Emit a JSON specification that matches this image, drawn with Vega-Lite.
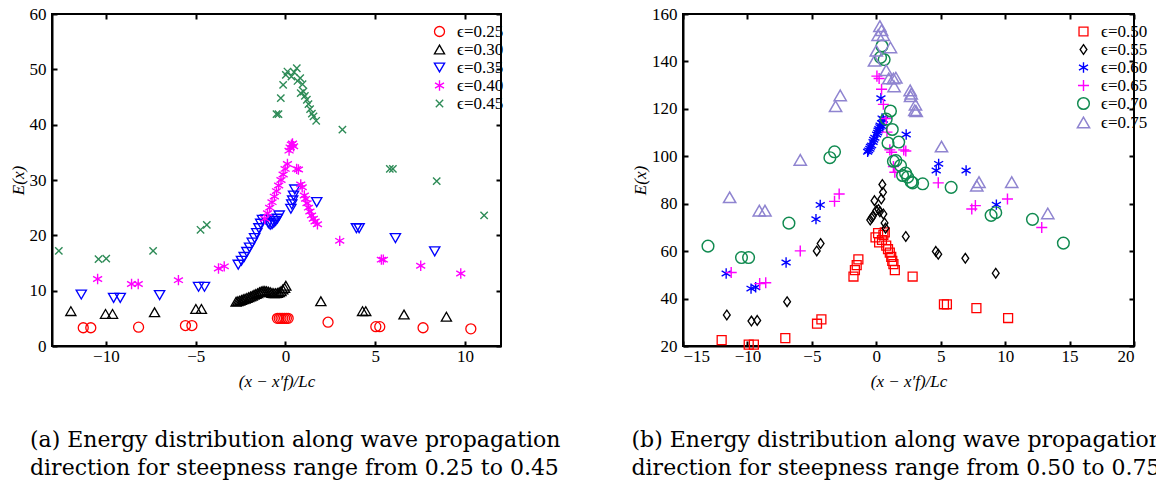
{
  "$schema": "https://vega.github.io/schema/vega-lite/v6.json",
  "background": "white",
  "padding": {"left": 8, "top": 4, "right": 0, "bottom": 0},
  "bounds": "flush",
  "spacing": 182,
  "datasets": {
    "a": [
      {"s":"ϵ=0.25","x":-11.26,"y":3.3},{"s":"ϵ=0.25","x":-10.84,"y":3.3},{"s":"ϵ=0.25","x":-8.18,"y":3.4},{"s":"ϵ=0.25","x":-5.57,"y":3.7},{"s":"ϵ=0.25","x":-5.21,"y":3.7},{"s":"ϵ=0.25","x":-0.45,"y":5.0},{"s":"ϵ=0.25","x":-0.35,"y":5.0},{"s":"ϵ=0.25","x":-0.25,"y":5.0},{"s":"ϵ=0.25","x":-0.15,"y":5.0},{"s":"ϵ=0.25","x":-0.05,"y":5.0},{"s":"ϵ=0.25","x":0.05,"y":5.0},{"s":"ϵ=0.25","x":0.15,"y":5.0},{"s":"ϵ=0.25","x":2.37,"y":4.3},{"s":"ϵ=0.25","x":5.03,"y":3.5},{"s":"ϵ=0.25","x":5.25,"y":3.5},{"s":"ϵ=0.25","x":7.66,"y":3.3},{"s":"ϵ=0.25","x":10.32,"y":3.1},
      {"s":"ϵ=0.30","x":-11.95,"y":6.3},{"s":"ϵ=0.30","x":-10.02,"y":5.8},{"s":"ϵ=0.30","x":-9.63,"y":5.8},{"s":"ϵ=0.30","x":-7.29,"y":6.1},{"s":"ϵ=0.30","x":-4.99,"y":6.7},{"s":"ϵ=0.30","x":-4.68,"y":6.7},
      {"s":"ϵ=0.30","x":-2.75,"y":8.0},{"s":"ϵ=0.30","x":-2.65,"y":8.1},{"s":"ϵ=0.30","x":-2.55,"y":8.2},{"s":"ϵ=0.30","x":-2.45,"y":8.3},{"s":"ϵ=0.30","x":-2.35,"y":8.45},{"s":"ϵ=0.30","x":-2.25,"y":8.55},{"s":"ϵ=0.30","x":-2.15,"y":8.7},{"s":"ϵ=0.30","x":-2.05,"y":8.8},{"s":"ϵ=0.30","x":-1.95,"y":8.95},{"s":"ϵ=0.30","x":-1.85,"y":9.1},{"s":"ϵ=0.30","x":-1.75,"y":9.25},{"s":"ϵ=0.30","x":-1.65,"y":9.4},{"s":"ϵ=0.30","x":-1.55,"y":9.55},{"s":"ϵ=0.30","x":-1.45,"y":9.7},{"s":"ϵ=0.30","x":-1.35,"y":9.85},{"s":"ϵ=0.30","x":-1.25,"y":9.95},{"s":"ϵ=0.30","x":-1.15,"y":9.95},{"s":"ϵ=0.30","x":-1.05,"y":9.9},{"s":"ϵ=0.30","x":-0.95,"y":9.8},{"s":"ϵ=0.30","x":-0.85,"y":9.7},{"s":"ϵ=0.30","x":-0.75,"y":9.6},{"s":"ϵ=0.30","x":-0.65,"y":9.55},{"s":"ϵ=0.30","x":-0.55,"y":9.55},{"s":"ϵ=0.30","x":-0.45,"y":9.6},{"s":"ϵ=0.30","x":-0.35,"y":9.7},{"s":"ϵ=0.30","x":-0.25,"y":9.9},{"s":"ϵ=0.30","x":-0.15,"y":10.2},{"s":"ϵ=0.30","x":-0.05,"y":10.5},{"s":"ϵ=0.30","x":0.02,"y":10.9},
      {"s":"ϵ=0.30","x":1.97,"y":8.1},{"s":"ϵ=0.30","x":4.29,"y":6.3},{"s":"ϵ=0.30","x":4.47,"y":6.3},{"s":"ϵ=0.30","x":6.6,"y":5.7},{"s":"ϵ=0.30","x":8.96,"y":5.3},
      {"s":"ϵ=0.35","x":-11.37,"y":9.3},{"s":"ϵ=0.35","x":-9.57,"y":8.7},{"s":"ϵ=0.35","x":-9.2,"y":8.7},{"s":"ϵ=0.35","x":-7.01,"y":9.2},{"s":"ϵ=0.35","x":-4.84,"y":10.7},{"s":"ϵ=0.35","x":-4.51,"y":10.7},
      {"s":"ϵ=0.35","x":-2.63,"y":14.7},{"s":"ϵ=0.35","x":-2.45,"y":15.4},{"s":"ϵ=0.35","x":-2.3,"y":16.1},{"s":"ϵ=0.35","x":-2.15,"y":17.0},{"s":"ϵ=0.35","x":-2.0,"y":17.8},{"s":"ϵ=0.35","x":-1.85,"y":18.7},{"s":"ϵ=0.35","x":-1.72,"y":19.5},{"s":"ϵ=0.35","x":-1.6,"y":20.4},{"s":"ϵ=0.35","x":-1.48,"y":21.3},{"s":"ϵ=0.35","x":-1.38,"y":22.1},{"s":"ϵ=0.35","x":-1.28,"y":22.8},{"s":"ϵ=0.35","x":-1.1,"y":22.9},{"s":"ϵ=0.35","x":-0.95,"y":22.2},{"s":"ϵ=0.35","x":-0.85,"y":21.9},{"s":"ϵ=0.35","x":-0.75,"y":22.0},{"s":"ϵ=0.35","x":-0.65,"y":22.3},{"s":"ϵ=0.35","x":-0.55,"y":22.6},{"s":"ϵ=0.35","x":-0.45,"y":23.0},{"s":"ϵ=0.35","x":-0.35,"y":23.6},
      {"s":"ϵ=0.35","x":0.3,"y":24.8},{"s":"ϵ=0.35","x":0.35,"y":25.6},{"s":"ϵ=0.35","x":0.4,"y":26.3},{"s":"ϵ=0.35","x":0.45,"y":27.2},{"s":"ϵ=0.35","x":0.52,"y":28.3},{"s":"ϵ=0.35","x":1.74,"y":26.0},{"s":"ϵ=0.35","x":3.95,"y":21.3},{"s":"ϵ=0.35","x":4.1,"y":21.3},{"s":"ϵ=0.35","x":6.12,"y":19.5},{"s":"ϵ=0.35","x":8.31,"y":17.1},
      {"s":"ϵ=0.40","x":-10.46,"y":12.1},{"s":"ϵ=0.40","x":-8.57,"y":11.2},{"s":"ϵ=0.40","x":-8.2,"y":11.2},{"s":"ϵ=0.40","x":-5.96,"y":11.9},{"s":"ϵ=0.40","x":-3.73,"y":14.0},{"s":"ϵ=0.40","x":-3.41,"y":14.4},
      {"s":"ϵ=0.40","x":-1.15,"y":23.0},{"s":"ϵ=0.40","x":-1.0,"y":24.0},{"s":"ϵ=0.40","x":-0.88,"y":25.0},{"s":"ϵ=0.40","x":-0.75,"y":26.0},{"s":"ϵ=0.40","x":-0.62,"y":27.0},{"s":"ϵ=0.40","x":-0.5,"y":28.0},{"s":"ϵ=0.40","x":-0.38,"y":29.0},{"s":"ϵ=0.40","x":-0.25,"y":30.0},{"s":"ϵ=0.40","x":-0.13,"y":31.0},{"s":"ϵ=0.40","x":-0.02,"y":32.0},{"s":"ϵ=0.40","x":0.11,"y":32.9},
      {"s":"ϵ=0.40","x":0.2,"y":35.3},{"s":"ϵ=0.40","x":0.26,"y":35.9},{"s":"ϵ=0.40","x":0.33,"y":36.4},{"s":"ϵ=0.40","x":0.39,"y":36.6},{"s":"ϵ=0.40","x":0.45,"y":36.1},{"s":"ϵ=0.40","x":0.62,"y":32.0},{"s":"ϵ=0.40","x":0.72,"y":31.9},{"s":"ϵ=0.40","x":0.85,"y":29.2},{"s":"ϵ=0.40","x":0.93,"y":28.7},{"s":"ϵ=0.40","x":1.05,"y":27.2},{"s":"ϵ=0.40","x":1.12,"y":26.6},{"s":"ϵ=0.40","x":1.2,"y":25.8},{"s":"ϵ=0.40","x":1.28,"y":25.0},{"s":"ϵ=0.40","x":1.36,"y":24.3},{"s":"ϵ=0.40","x":1.45,"y":23.6},{"s":"ϵ=0.40","x":1.55,"y":23.0},{"s":"ϵ=0.40","x":1.65,"y":22.5},{"s":"ϵ=0.40","x":1.78,"y":22.0},
      {"s":"ϵ=0.40","x":3.02,"y":19.0},{"s":"ϵ=0.40","x":5.34,"y":15.6},{"s":"ϵ=0.40","x":5.45,"y":15.6},{"s":"ϵ=0.40","x":7.53,"y":14.5},{"s":"ϵ=0.40","x":9.76,"y":13.1},
      {"s":"ϵ=0.45","x":-12.62,"y":17.2},{"s":"ϵ=0.45","x":-10.41,"y":15.7},{"s":"ϵ=0.45","x":-9.98,"y":15.8},{"s":"ϵ=0.45","x":-7.37,"y":17.2},{"s":"ϵ=0.45","x":-4.73,"y":21.0},{"s":"ϵ=0.45","x":-4.38,"y":21.9},
      {"s":"ϵ=0.45","x":-0.5,"y":41.9},{"s":"ϵ=0.45","x":-0.39,"y":41.9},{"s":"ϵ=0.45","x":-0.26,"y":44.8},{"s":"ϵ=0.45","x":-0.13,"y":47.2},{"s":"ϵ=0.45","x":0.02,"y":49.0},{"s":"ϵ=0.45","x":0.11,"y":49.6},{"s":"ϵ=0.45","x":0.33,"y":48.7},{"s":"ϵ=0.45","x":0.48,"y":49.5},{"s":"ϵ=0.45","x":0.63,"y":50.2},{"s":"ϵ=0.45","x":0.67,"y":47.9},{"s":"ϵ=0.45","x":0.82,"y":48.4},{"s":"ϵ=0.45","x":0.95,"y":47.3},{"s":"ϵ=0.45","x":0.85,"y":45.7},{"s":"ϵ=0.45","x":1.0,"y":46.0},{"s":"ϵ=0.45","x":1.08,"y":45.2},{"s":"ϵ=0.45","x":1.19,"y":44.5},{"s":"ϵ=0.45","x":1.28,"y":43.7},{"s":"ϵ=0.45","x":1.37,"y":42.8},{"s":"ϵ=0.45","x":1.47,"y":42.0},{"s":"ϵ=0.45","x":1.56,"y":41.5},{"s":"ϵ=0.45","x":1.71,"y":40.7},
      {"s":"ϵ=0.45","x":3.17,"y":39.1},{"s":"ϵ=0.45","x":5.81,"y":32.0},{"s":"ϵ=0.45","x":5.98,"y":32.0},{"s":"ϵ=0.45","x":8.42,"y":29.8},{"s":"ϵ=0.45","x":11.06,"y":23.6}
    ],
    "b": [
      {"s":"ϵ=0.50","x":-12.0,"y":22.5},{"s":"ϵ=0.50","x":-9.9,"y":20.6},{"s":"ϵ=0.50","x":-9.5,"y":20.6},{"s":"ϵ=0.50","x":-7.06,"y":23.3},{"s":"ϵ=0.50","x":-4.6,"y":29.4},{"s":"ϵ=0.50","x":-4.26,"y":31.2},{"s":"ϵ=0.50","x":-1.77,"y":49.3},{"s":"ϵ=0.50","x":-1.66,"y":52.0},{"s":"ϵ=0.50","x":-1.52,"y":54.1},{"s":"ϵ=0.50","x":-1.39,"y":56.5},{"s":"ϵ=0.50","x":-0.06,"y":65.8},{"s":"ϵ=0.50","x":0.14,"y":67.6},{"s":"ϵ=0.50","x":0.22,"y":63.7},{"s":"ϵ=0.50","x":0.44,"y":64.7},{"s":"ϵ=0.50","x":0.55,"y":66.9},{"s":"ϵ=0.50","x":0.66,"y":67.9},{"s":"ϵ=0.50","x":0.77,"y":62.3},{"s":"ϵ=0.50","x":0.91,"y":60.8},{"s":"ϵ=0.50","x":1.05,"y":59.4},{"s":"ϵ=0.50","x":1.16,"y":57.6},{"s":"ϵ=0.50","x":1.24,"y":55.9},{"s":"ϵ=0.50","x":1.33,"y":54.5},{"s":"ϵ=0.50","x":1.44,"y":52.0},{"s":"ϵ=0.50","x":2.82,"y":49.3},{"s":"ϵ=0.50","x":5.25,"y":37.6},{"s":"ϵ=0.50","x":5.48,"y":37.6},{"s":"ϵ=0.50","x":7.77,"y":36.0},{"s":"ϵ=0.50","x":10.23,"y":31.8},
      {"s":"ϵ=0.55","x":-11.6,"y":33.1},{"s":"ϵ=0.55","x":-9.69,"y":30.5},{"s":"ϵ=0.55","x":-9.24,"y":30.8},{"s":"ϵ=0.55","x":-6.92,"y":38.7},{"s":"ϵ=0.55","x":-4.62,"y":60.1},{"s":"ϵ=0.55","x":-4.32,"y":63.2},{"s":"ϵ=0.55","x":-0.47,"y":73.1},{"s":"ϵ=0.55","x":-0.36,"y":74.0},{"s":"ϵ=0.55","x":-0.28,"y":74.7},{"s":"ϵ=0.55","x":-0.14,"y":81.3},{"s":"ϵ=0.55","x":0.0,"y":77.1},{"s":"ϵ=0.55","x":0.17,"y":77.6},{"s":"ϵ=0.55","x":0.28,"y":76.6},{"s":"ϵ=0.55","x":0.39,"y":82.0},{"s":"ϵ=0.55","x":0.47,"y":88.1},{"s":"ϵ=0.55","x":0.52,"y":84.8},{"s":"ϵ=0.55","x":0.55,"y":75.7},{"s":"ϵ=0.55","x":0.64,"y":71.9},{"s":"ϵ=0.55","x":0.72,"y":69.7},{"s":"ϵ=0.55","x":2.29,"y":66.2},{"s":"ϵ=0.55","x":4.62,"y":59.9},{"s":"ϵ=0.55","x":4.81,"y":58.7},{"s":"ϵ=0.55","x":6.91,"y":57.0},{"s":"ϵ=0.55","x":9.27,"y":50.7},
      {"s":"ϵ=0.60","x":-11.65,"y":50.6},{"s":"ϵ=0.60","x":-9.72,"y":44.2},{"s":"ϵ=0.60","x":-9.36,"y":44.8},{"s":"ϵ=0.60","x":-7.0,"y":55.2},{"s":"ϵ=0.60","x":-4.68,"y":73.5},{"s":"ϵ=0.60","x":-4.35,"y":79.5},{"s":"ϵ=0.60","x":-0.67,"y":101.9},{"s":"ϵ=0.60","x":-0.5,"y":103.2},{"s":"ϵ=0.60","x":-0.36,"y":104.6},{"s":"ϵ=0.60","x":-0.25,"y":106.0},{"s":"ϵ=0.60","x":-0.11,"y":107.8},{"s":"ϵ=0.60","x":0.03,"y":109.2},{"s":"ϵ=0.60","x":0.14,"y":110.9},{"s":"ϵ=0.60","x":0.28,"y":112.3},{"s":"ϵ=0.60","x":0.41,"y":114.0},{"s":"ϵ=0.60","x":0.55,"y":115.4},{"s":"ϵ=0.60","x":-0.6,"y":102.5},{"s":"ϵ=0.60","x":-0.45,"y":104.0},{"s":"ϵ=0.60","x":-0.2,"y":107.0},{"s":"ϵ=0.60","x":0.1,"y":110.0},{"s":"ϵ=0.60","x":0.3,"y":113.0},{"s":"ϵ=0.60","x":0.45,"y":116.0},{"s":"ϵ=0.60","x":0.2,"y":111.5},{"s":"ϵ=0.60","x":0.5,"y":112.5},{"s":"ϵ=0.60","x":0.36,"y":124.5},{"s":"ϵ=0.60","x":2.32,"y":109.2},{"s":"ϵ=0.60","x":4.65,"y":94.0},{"s":"ϵ=0.60","x":4.84,"y":96.8},{"s":"ϵ=0.60","x":6.97,"y":94.0},{"s":"ϵ=0.60","x":9.32,"y":79.6},
      {"s":"ϵ=0.65","x":-11.26,"y":51.0},{"s":"ϵ=0.65","x":-9.05,"y":46.3},{"s":"ϵ=0.65","x":-8.58,"y":46.7},{"s":"ϵ=0.65","x":-5.9,"y":60.1},{"s":"ϵ=0.65","x":-3.24,"y":81.0},{"s":"ϵ=0.65","x":-2.88,"y":84.1},{"s":"ϵ=0.65","x":0.05,"y":133.8},{"s":"ϵ=0.65","x":0.22,"y":132.8},{"s":"ϵ=0.65","x":0.41,"y":128.3},{"s":"ϵ=0.65","x":0.55,"y":121.9},{"s":"ϵ=0.65","x":0.77,"y":115.9},{"s":"ϵ=0.65","x":0.83,"y":110.2},{"s":"ϵ=0.65","x":1.05,"y":102.7},{"s":"ϵ=0.65","x":1.19,"y":101.7},{"s":"ϵ=0.65","x":1.33,"y":95.7},{"s":"ϵ=0.65","x":1.44,"y":93.3},{"s":"ϵ=0.65","x":2.13,"y":102.7},{"s":"ϵ=0.65","x":2.29,"y":102.2},{"s":"ϵ=0.65","x":4.81,"y":88.8},{"s":"ϵ=0.65","x":7.41,"y":77.8},{"s":"ϵ=0.65","x":7.69,"y":79.2},{"s":"ϵ=0.65","x":10.18,"y":82.0},{"s":"ϵ=0.65","x":12.84,"y":70.0},
      {"s":"ϵ=0.70","x":-13.06,"y":62.1},{"s":"ϵ=0.70","x":-10.46,"y":57.3},{"s":"ϵ=0.70","x":-9.91,"y":57.3},{"s":"ϵ=0.70","x":-6.78,"y":71.8},{"s":"ϵ=0.70","x":-3.6,"y":99.4},{"s":"ϵ=0.70","x":-3.24,"y":101.9},{"s":"ϵ=0.70","x":0.44,"y":146.5},{"s":"ϵ=0.70","x":0.33,"y":141.7},{"s":"ϵ=0.70","x":0.61,"y":140.8},{"s":"ϵ=0.70","x":0.77,"y":115.7},{"s":"ϵ=0.70","x":1.1,"y":119.1},{"s":"ϵ=0.70","x":1.24,"y":111.3},{"s":"ϵ=0.70","x":0.91,"y":105.6},{"s":"ϵ=0.70","x":1.74,"y":106.0},{"s":"ϵ=0.70","x":1.33,"y":97.9},{"s":"ϵ=0.70","x":1.52,"y":98.2},{"s":"ϵ=0.70","x":1.88,"y":96.1},{"s":"ϵ=0.70","x":2.04,"y":91.9},{"s":"ϵ=0.70","x":2.27,"y":92.9},{"s":"ϵ=0.70","x":2.43,"y":91.2},{"s":"ϵ=0.70","x":2.71,"y":89.2},{"s":"ϵ=0.70","x":2.82,"y":88.8},{"s":"ϵ=0.70","x":3.6,"y":88.4},{"s":"ϵ=0.70","x":5.81,"y":86.9},{"s":"ϵ=0.70","x":8.91,"y":75.1},{"s":"ϵ=0.70","x":9.27,"y":76.2},{"s":"ϵ=0.70","x":12.12,"y":73.4},{"s":"ϵ=0.70","x":14.52,"y":63.4},
      {"s":"ϵ=0.75","x":-11.38,"y":82.7},{"s":"ϵ=0.75","x":-9.08,"y":77.1},{"s":"ϵ=0.75","x":-8.64,"y":77.1},{"s":"ϵ=0.75","x":-5.9,"y":98.5},{"s":"ϵ=0.75","x":-3.16,"y":121.1},{"s":"ϵ=0.75","x":-2.8,"y":125.7},{"s":"ϵ=0.75","x":-0.14,"y":140.3},{"s":"ϵ=0.75","x":0.0,"y":144.5},{"s":"ϵ=0.75","x":0.14,"y":151.1},{"s":"ϵ=0.75","x":0.28,"y":154.9},{"s":"ϵ=0.75","x":0.41,"y":153.2},{"s":"ϵ=0.75","x":0.55,"y":151.1},{"s":"ϵ=0.75","x":1.1,"y":145.9},{"s":"ϵ=0.75","x":0.77,"y":136.3},{"s":"ϵ=0.75","x":0.97,"y":132.8},{"s":"ϵ=0.75","x":1.33,"y":132.8},{"s":"ϵ=0.75","x":1.52,"y":133.1},{"s":"ϵ=0.75","x":1.38,"y":129.5},{"s":"ϵ=0.75","x":2.63,"y":127.8},{"s":"ϵ=0.75","x":2.71,"y":126.4},{"s":"ϵ=0.75","x":2.66,"y":125.3},{"s":"ϵ=0.75","x":3.04,"y":121.8},{"s":"ϵ=0.75","x":2.99,"y":119.4},{"s":"ϵ=0.75","x":3.1,"y":119.0},{"s":"ϵ=0.75","x":5.06,"y":104.1},{"s":"ϵ=0.75","x":7.8,"y":87.6},{"s":"ϵ=0.75","x":7.97,"y":89.1},{"s":"ϵ=0.75","x":10.51,"y":89.1},{"s":"ϵ=0.75","x":13.31,"y":75.9}
    ]
  },
  "resolve": {
    "scale": {"color": "independent", "shape": "independent", "size": "independent", "strokeWidth": "independent"},
    "legend": {"color": "independent", "shape": "independent"}
  },
  "hconcat": [
    {
      "width": 449,
      "height": 332,
      "data": {"name": "a"},
      "title": {"text": ["(a) Energy distribution along wave propagation", "direction for steepness range from 0.25 to 0.45"], "dx": 21},
      "layer": [
        {
          "mark": {"type": "point", "filled": false, "opacity": 1},
          "encoding": {
            "x": {"field": "x", "type": "quantitative", "scale": {"domain": [-13, 12], "nice": false, "zero": false}, "axis": {"values": [-10, -5, 0, 5, 10], "title": "(x − x′f)/Lc", "titleFontStyle": "italic", "ticks": false}},
            "y": {"field": "y", "type": "quantitative", "scale": {"domain": [0, 60], "nice": false}, "axis": {"values": [0, 10, 20, 30, 40, 50, 60], "title": "E(x)", "titleFontStyle": "italic", "ticks": false}},
            "color": {"field": "s", "type": "nominal", "scale": {"domain": ["ϵ=0.25","ϵ=0.30","ϵ=0.35","ϵ=0.40","ϵ=0.45"], "range": ["#ff0000","#000000","#0000ff","#ff00ff","#2e8b57"]}, "legend": {"orient": "none", "legendX": 379, "legendY": 9, "title": null}},
            "shape": {"field": "s", "type": "nominal", "scale": {"domain": ["ϵ=0.25","ϵ=0.30","ϵ=0.35","ϵ=0.40","ϵ=0.45"], "range": ["circle","triangle-up","triangle-down","M0,-1L0,1M-0.87,-0.5L0.87,0.5M-0.87,0.5L0.87,-0.5","M-0.7,-0.7L0.7,0.7M-0.7,0.7L0.7,-0.7"]}, "legend": {"orient": "none", "legendX": 379, "legendY": 9, "title": null}},
            "size": {"field": "s", "type": "nominal", "scale": {"domain": ["ϵ=0.25","ϵ=0.30","ϵ=0.35","ϵ=0.40","ϵ=0.45"], "range": [100, 110, 110, 56, 90]}, "legend": null},
            "strokeWidth": {"field": "s", "type": "nominal", "scale": {"domain": ["ϵ=0.25","ϵ=0.30","ϵ=0.35","ϵ=0.40","ϵ=0.45"], "range": [1.3, 1.4, 1.4, 3, 1.8]}, "legend": null}
          }
        },
        {
          "mark": {"type": "point", "opacity": 0},
          "encoding": {
            "x": {"field": "x", "type": "quantitative", "axis": {"orient": "top", "offset": -332, "values": [-10, -5, 0, 5, 10], "labels": false, "title": null, "domain": false}},
            "y": {"field": "y", "type": "quantitative", "axis": {"orient": "right", "offset": -449, "values": [0, 10, 20, 30, 40, 50, 60], "labels": false, "title": null, "domain": false}}
          }
        },
        {
          "mark": {"type": "point", "opacity": 0},
          "encoding": {
            "x": {"field": "x", "type": "quantitative", "axis": {"orient": "bottom", "offset": -332, "values": [-10, -5, 0, 5, 10], "labels": false, "title": null, "domain": false}},
            "y": {"field": "y", "type": "quantitative", "axis": {"orient": "left", "offset": -449, "values": [0, 10, 20, 30, 40, 50, 60], "labels": false, "title": null, "domain": false}}
          }
        }
      ],
      "resolve": {"axis": {"x": "independent", "y": "independent"}}
    },
    {
      "width": 451,
      "height": 332,
      "data": {"name": "b"},
      "title": {"text": ["(b) Energy distribution along wave propagation", "direction for steepness range from 0.50 to 0.75"], "dx": 0},
      "layer": [
        {
          "mark": {"type": "point", "filled": false, "opacity": 1},
          "encoding": {
            "x": {"field": "x", "type": "quantitative", "scale": {"domain": [-15, 20], "nice": false, "zero": false}, "axis": {"values": [-15, -10, -5, 0, 5, 10, 15, 20], "title": "(x − x′f)/Lc", "titleFontStyle": "italic", "ticks": false}},
            "y": {"field": "y", "type": "quantitative", "scale": {"domain": [20, 160], "nice": false, "zero": false}, "axis": {"values": [20, 40, 60, 80, 100, 120, 140, 160], "title": "E(x)", "titleFontStyle": "italic", "ticks": false}},
            "color": {"field": "s", "type": "nominal", "scale": {"domain": ["ϵ=0.50","ϵ=0.55","ϵ=0.60","ϵ=0.65","ϵ=0.70","ϵ=0.75"], "range": ["#ff0000","#000000","#0000ff","#ff00ff","#108a50","#8f84d0"]}, "legend": {"orient": "none", "legendX": 392, "legendY": 9, "title": null}},
            "shape": {"field": "s", "type": "nominal", "scale": {"domain": ["ϵ=0.50","ϵ=0.55","ϵ=0.60","ϵ=0.65","ϵ=0.70","ϵ=0.75"], "range": ["square","M0,-1L0.7,0L0,1L-0.7,0Z","M0,-1L0,1M-0.87,-0.5L0.87,0.5M-0.87,0.5L0.87,-0.5","M0,-1L0,1M-1,0L1,0","circle","triangle-up"]}, "legend": {"orient": "none", "legendX": 392, "legendY": 9, "title": null}},
            "size": {"field": "s", "type": "nominal", "scale": {"domain": ["ϵ=0.50","ϵ=0.55","ϵ=0.60","ϵ=0.65","ϵ=0.70","ϵ=0.75"], "range": [80, 150, 56, 90, 85, 150]}, "legend": null},
            "strokeWidth": {"field": "s", "type": "nominal", "scale": {"domain": ["ϵ=0.50","ϵ=0.55","ϵ=0.60","ϵ=0.65","ϵ=0.70","ϵ=0.75"], "range": [1.3, 1.5, 3, 1.6, 1.4, 1.3]}, "legend": null}
          }
        },
        {
          "mark": {"type": "point", "opacity": 0},
          "encoding": {
            "x": {"field": "x", "type": "quantitative", "axis": {"orient": "top", "offset": -332, "values": [-15, -10, -5, 0, 5, 10, 15, 20], "labels": false, "title": null, "domain": false}},
            "y": {"field": "y", "type": "quantitative", "axis": {"orient": "right", "offset": -451, "values": [20, 40, 60, 80, 100, 120, 140, 160], "labels": false, "title": null, "domain": false}}
          }
        },
        {
          "mark": {"type": "point", "opacity": 0},
          "encoding": {
            "x": {"field": "x", "type": "quantitative", "axis": {"orient": "bottom", "offset": -332, "values": [-15, -10, -5, 0, 5, 10, 15, 20], "labels": false, "title": null, "domain": false}},
            "y": {"field": "y", "type": "quantitative", "axis": {"orient": "left", "offset": -451, "values": [20, 40, 60, 80, 100, 120, 140, 160], "labels": false, "title": null, "domain": false}}
          }
        }
      ],
      "resolve": {"axis": {"x": "independent", "y": "independent"}}
    }
  ],
  "config": {
    "view": {"stroke": "black", "strokeWidth": 2},
    "font": "Liberation Serif",
    "axis": {
      "domain": true, "domainColor": "black", "domainWidth": 2,
      "grid": false,
      "ticks": true, "tickColor": "black", "tickWidth": 2, "tickSize": 5,
      "labelFont": "Liberation Serif", "labelFontSize": 17, "labelColor": "black",
      "titleFont": "Liberation Serif", "titleFontSize": 17, "titleColor": "black", "titleFontWeight": "normal"
    },
    "axisX": {"titlePadding": 9, "labelPadding": 2},
    "axisY": {"titlePadding": 2, "labelPadding": 6},
    "legend": {
      "labelFont": "Liberation Serif", "labelFontSize": 17, "labelColor": "black",
      "symbolStrokeWidth": 1.5, "rowPadding": 0, "padding": 0, "labelOffset": 9
    },
    "title": {
      "orient": "bottom", "anchor": "start", "font": "DejaVu Serif", "fontSize": 22, "fontWeight": "normal",
      "color": "black", "lineHeight": 28, "offset": 41
    }
  }
}
